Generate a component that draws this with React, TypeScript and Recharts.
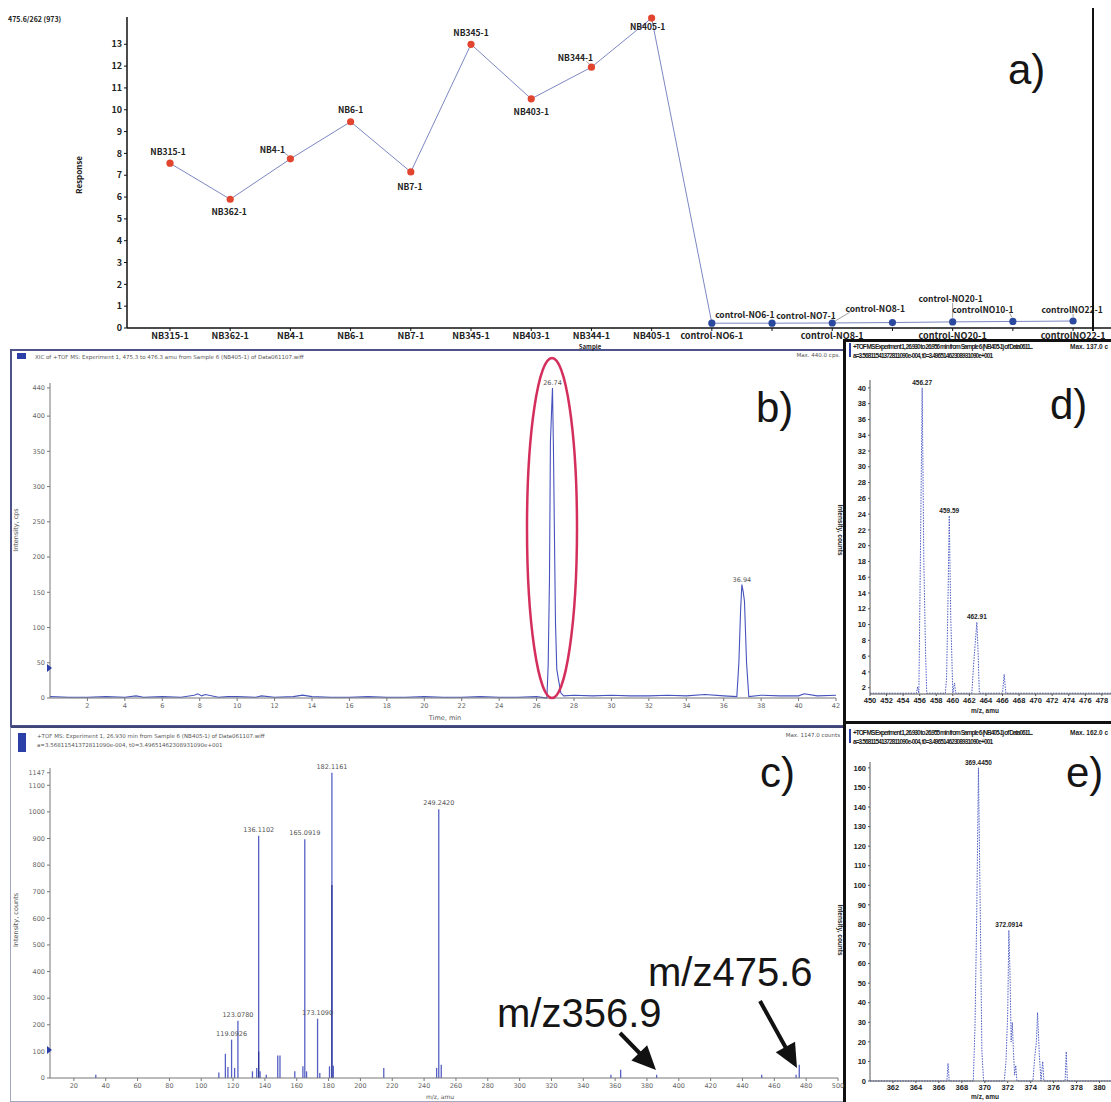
import React from 'react';
import { LineChart, Line, XAxis, YAxis, ComposedChart, Bar, ReferenceDot } from 'recharts';

const SANS = '"Liberation Sans", Arial, sans-serif';
const GOTHIC = '"Noto Sans CJK JP", "DejaVu Sans", sans-serif';
const NARROW = '"Liberation Sans Narrow", "Liberation Sans", sans-serif';
const SMALL = '"DejaVu Sans", sans-serif';

// a) 475.6/262 response per sample
const aSamples = [
  'NB315-1', 'NB362-1', 'NB4-1', 'NB6-1', 'NB7-1', 'NB345-1', 'NB403-1', 'NB344-1', 'NB405-1',
  'control-NO6-1', 'control-NO7-1', 'control-NO8-1', 'control-NO9-1', 'control-NO20-1', 'controlNO10-1', 'controlNO22-1',
];
const aResponse = [7.55, 5.9, 7.75, 9.45, 7.15, 13.0, 10.5, 11.95, 14.2, 0.22, 0.22, 0.23, 0.25, 0.28, 0.3, 0.32];
const aTickLabels = [
  'NB315-1', 'NB362-1', 'NB4-1', 'NB6-1', 'NB7-1', 'NB345-1', 'NB403-1', 'NB344-1', 'NB405-1',
  'control-NO6-1', '', 'control-NO8-1', '', 'control-NO20-1', '', 'controlNO22-1',
];
const aPointLabels = [
  'NB315-1', 'NB362-1', 'NB4-1', 'NB6-1', 'NB7-1', 'NB345-1', 'NB403-1', 'NB344-1', 'NB405-1',
  'control-NO6-1', 'control-NO7-1', 'control-NO8-1', '', 'control-NO20-1', 'controlNO10-1', 'controlNO22-1',
];
const aYTicks = [0, 1, 2, 3, 4, 5, 6, 7, 8, 9, 10, 11, 12, 13];

// b) XIC 475.3 - 476.3 amu
const bTime = [
  0, 1, 2, 3, 4, 4.6, 5, 6, 7, 7.7, 7.9, 8.1, 8.3, 9, 9.5, 10, 11, 11.3, 12, 13, 13.5, 14,
  15, 16, 17, 18, 19, 20, 21, 22, 23, 24, 25, 26,
  26.55, 26.62, 26.69, 26.74, 26.8, 26.85, 26.9, 26.96, 27.01, 27.08, 27.17, 27.3, 27.45,
  28, 29, 30, 31, 32, 33, 34, 35, 36,
  36.7, 36.81, 36.9, 36.97, 37.04, 37.11, 37.22, 37.34,
  38, 39, 40, 40.3, 41, 42,
];
const bIntensity = [
  2, 1, 1, 2, 1, 3, 1, 2, 1, 4, 6, 3, 5, 1, 2, 2, 1, 3, 1, 2, 4, 2,
  1, 1, 2, 1, 1, 2, 1, 1, 2, 1, 1, 2,
  0, 46, 170, 363, 406, 440, 358, 219, 108, 41, 26, 7, 3,
  4, 3, 4, 3, 3, 4, 3, 5, 3,
  2, 50, 123, 161, 151, 137, 50, 2,
  4, 3, 3, 6, 3, 4,
];
const bPeakTime = [26.85, 36.97];
const bPeakIntensity = [440, 161];
const bPeakLabel = ['26.74', '36.94'];
const bYTicks = [0, 50, 100, 150, 200, 250, 300, 350, 400, 440];
const bXTicks = [2, 4, 6, 8, 10, 12, 14, 16, 18, 20, 22, 24, 26, 28, 30, 32, 34, 36, 38, 40, 42];

// c) TOF MS spectrum at 26.930 min
const cMz = [
  33.8, 111.1, 115.2, 116.8, 119.09, 121.0, 123.08, 132.2, 134.9, 136.11, 137.0, 140.9, 148.1, 149.5,
  158.8, 163.9, 165.09, 166.2, 173.11, 174.5, 180.6, 182.12, 183.0, 214.7, 247.9, 249.24, 250.8,
  357.4, 363.5, 386.1, 452.1, 473.7, 475.7,
];
const cIntensity = [
  12, 21, 91, 41, 144, 38, 215, 25, 38, 910, 25, 12, 85, 85,
  25, 44, 897, 25, 223, 19, 44, 1147, 46, 38, 38, 1010, 50,
  12, 31, 12, 12, 12, 50,
];
const cCoreMz = [136.11, 182.12];
const cCoreIntensity = [100, 725];
const cLabelMz = [119.09, 123.08, 136.11, 165.09, 173.11, 182.12, 249.24];
const cLabelIntensity = [144, 215, 910, 897, 223, 1147, 1010];
const cLabelText = ['119.0926', '123.0780', '136.1102', '165.0919', '173.1090', '182.1161', '249.2420'];
const cYTicks = [0, 100, 200, 300, 400, 500, 600, 700, 800, 900, 1000, 1100, 1147];
const cXTicks = [20, 40, 60, 80, 100, 120, 140, 160, 180, 200, 220, 240, 260, 280, 300, 320, 340, 360, 380, 400, 420, 440, 460, 480, 500];

// d) isotope cluster around 456
const dMz = [
  450, 455.6, 455.75, 455.9, 456.1, 456.3, 456.5, 456.7, 456.85,
  459.1, 459.25, 459.4, 459.57, 459.75, 460.0, 460.2, 460.35,
  462.3, 462.5, 462.7, 462.9, 463.05, 463.2, 466.0, 466.2, 466.4, 479.1,
];
const dIntensity = [
  1.3, 1.3, 2.1, 1.3, 20, 40, 18, 6.9, 1.3,
  1.3, 3.3, 12, 23.8, 11, 1.3, 2.6, 1.3,
  1.3, 4.8, 7.5, 10.3, 6.6, 1.3, 1.3, 3.7, 1.3, 1.3,
];
const dLabelMz = [456.3, 459.57, 462.9];
const dLabelIntensity = [40, 23.8, 10.3];
const dLabelText = ['456.27', '459.59', '462.91'];
const dYTicks = [2, 4, 6, 8, 10, 12, 14, 16, 18, 20, 22, 24, 26, 28, 30, 32, 34, 36, 38, 40];
const dXTicks = [450, 452, 454, 456, 458, 460, 462, 464, 466, 468, 470, 472, 474, 476, 478];

// e) isotope cluster around 369
const eMz = [
  360, 366.7, 366.8, 366.9, 369.0, 369.15, 369.3, 369.45, 369.6, 369.75, 369.9,
  371.7, 371.85, 372.0, 372.1, 372.2, 372.3, 372.4, 372.5, 372.6, 372.7, 372.8,
  374.2, 374.35, 374.5, 374.6, 374.75, 374.9, 375.05, 375.15, 377.0, 377.1, 377.2, 381,
];
const eIntensity = [
  0, 0, 9, 0, 0, 28, 85, 160, 90, 15, 0,
  0, 10, 35, 77, 55, 20, 30, 15, 3, 8, 0,
  0, 12, 20, 35, 14, 0, 10, 0, 0, 15, 0, 0,
];
const eLabelMz = [369.45, 372.1];
const eLabelIntensity = [160, 77];
const eLabelText = ['369.4450', '372.0914'];
const eYTicks = [0, 10, 20, 30, 40, 50, 60, 70, 80, 90, 100, 110, 120, 130, 140, 150, 160];
const eXTicks = [362, 364, 366, 368, 370, 372, 374, 376, 378, 380];

// label placement for panel a (dx, dy from the point) and leader lines
const A_LABEL_OFFSET: [number, number][] = [
  [-2, -12], [-1, 12], [-18, -10], [0, -13], [-1, 14], [0, -12], [0, 12], [-16, -10], [-4, 8],
  [33, -9], [34, -8], [43, -15], [0, 0], [-2, -24], [-30, -12], [-1, -12],
];
const A_LEADER: (number[] | null)[] = [
  null, null, [-2, -3, -6, -6], null, null, null, null, [-2, -3, -5, -6], null,
  null, null, [3, -2, 18, -11], null, [0, -4, 0, -19], [-1, -4, -3, -8], [0, -4, 0, -7],
];

const renderADot = (p: any) => (
  <circle key={`ad${p.index}`} cx={p.cx} cy={p.cy} r={3.6} fill={p.index < 9 ? '#e2452f' : '#2b4a9f'} />
);

const renderALabel = (p: any) => {
  const { x, y, index } = p;
  const text = aPointLabels[index];
  if (!text) return <g key={`al${index}`} />;
  const [dx, dy] = A_LABEL_OFFSET[index];
  const ld = A_LEADER[index];
  return (
    <g key={`al${index}`}>
      {ld && <line x1={x + ld[0]} y1={y + ld[1]} x2={x + ld[2]} y2={y + ld[3]} stroke="#777" strokeWidth={0.7} />}
      <text x={x + dx} y={y + dy} textAnchor="middle" dominantBaseline="central" fontSize={8.5}
        fontWeight={700} fontFamily={GOTHIC} fill="#222">{text}</text>
    </g>
  );
};

function PanelA() {
  const data = aSamples.map((s, i) => ({ idx: i, sample: s, response: aResponse[i] }));
  const tick = { fontSize: 9, fill: '#222', fontWeight: 700, fontFamily: GOTHIC };
  return (
    <div style={{ position: 'absolute', left: 0, top: 0 }}>
      <LineChart width={1111} height={345} data={data} margin={{ top: 17, right: 0, bottom: 0, left: 97 }}>
        <XAxis dataKey="idx" type="number" domain={[-0.714, 15.63]} ticks={aSamples.map((_, i) => i)}
          tickFormatter={(v: number) => aTickLabels[v]} interval={0} height={17} tickSize={3}
          axisLine={{ stroke: '#111', strokeWidth: 1.5 }} tickLine={{ stroke: '#111' }} tick={tick} />
        <YAxis type="number" domain={[0, 14.25]} ticks={aYTicks} width={30} tickSize={3}
          axisLine={{ stroke: '#111', strokeWidth: 1.5 }} tickLine={{ stroke: '#111' }} tick={tick} />
        <Line type="linear" dataKey="response" stroke="#7d87c2" strokeWidth={1} isAnimationActive={false}
          dot={renderADot} activeDot={false} label={renderALabel} />
      </LineChart>
    </div>
  );
}

const smallTick = { fontSize: 6.5, fill: '#666', fontFamily: SMALL };

function PanelB() {
  const data = bTime.map((t, i) => ({ t, v: bIntensity[i] }));
  return (
    <div style={{ position: 'absolute', left: 10, top: 350 }}>
      <LineChart width={835} height={375} data={data} margin={{ top: 33, right: 9, bottom: 13, left: 10 }}>
        <XAxis dataKey="t" type="number" domain={[0, 42]} ticks={bXTicks} interval={0} height={14} tickSize={3}
          axisLine={{ stroke: '#777' }} tickLine={{ stroke: '#777' }} tick={smallTick} />
        <YAxis type="number" domain={[0, 447]} ticks={bYTicks} width={30} tickSize={3}
          axisLine={{ stroke: '#777' }} tickLine={{ stroke: '#777' }} tick={smallTick} />
        <Line type="linear" dataKey="v" stroke="#4653bd" strokeWidth={1.1} dot={false} activeDot={false}
          isAnimationActive={false} />
        {bPeakTime.map((t, i) => (
          <ReferenceDot key={`bp${i}`} x={t} y={bPeakIntensity[i]} r={0} stroke="none"
            label={{ value: bPeakLabel[i], position: 'top', fontSize: 6.5, fill: '#555', fontFamily: SMALL, offset: 3 }} />
        ))}
      </LineChart>
    </div>
  );
}

function PanelC() {
  const data = cMz.map((m, i) => {
    const k = cCoreMz.indexOf(m);
    return { mz: m, v: cIntensity[i], core: k >= 0 ? cCoreIntensity[k] : null };
  });
  return (
    <div style={{ position: 'absolute', left: 10, top: 728 }}>
      <ComposedChart width={835} height={374} data={data} margin={{ top: 40, right: 7, bottom: 10, left: 10 }}>
        <XAxis xAxisId="m" dataKey="mz" type="number" domain={[5, 500]} ticks={cXTicks} interval={0} height={14}
          tickSize={3} axisLine={{ stroke: '#777' }} tickLine={{ stroke: '#777' }} tick={smallTick} />
        <XAxis xAxisId="k" dataKey="mz" type="number" domain={[5, 500]} orientation="top" height={0} hide />
        <YAxis type="number" domain={[0, 1165]} ticks={cYTicks} width={30} tickSize={3}
          axisLine={{ stroke: '#777' }} tickLine={{ stroke: '#777' }} tick={smallTick} />
        <Bar xAxisId="m" dataKey="v" barSize={1.3} fill="#5560c4" isAnimationActive={false} />
        <Bar xAxisId="k" dataKey="core" barSize={2.6} fill="#2a3596" isAnimationActive={false} />
        {cLabelMz.map((m, i) => (
          <ReferenceDot key={`cp${i}`} xAxisId="m" x={m} y={cLabelIntensity[i]} r={0} stroke="none"
            label={{ value: cLabelText[i], position: 'top', fontSize: 6.5, fill: '#555', fontFamily: SMALL, offset: 4 }} />
        ))}
      </ComposedChart>
    </div>
  );
}

const boldTick = { fontSize: 7.5, fill: '#222', fontWeight: 700, fontFamily: NARROW };

function PanelD() {
  const data = dMz.map((m, i) => ({ mz: m, v: dIntensity[i] }));
  return (
    <div style={{ position: 'absolute', left: 845, top: 340 }}>
      <LineChart width={266} height={380} data={data} margin={{ top: 40, right: 0, bottom: 14, left: 5 }}>
        <XAxis dataKey="mz" type="number" domain={[450, 479.1]} ticks={dXTicks} interval={0} height={12}
          tickSize={2} axisLine={{ stroke: '#555' }} tickLine={{ stroke: '#555' }} tick={boldTick} />
        <YAxis type="number" domain={[1.2, 41]} ticks={dYTicks} width={20} tickSize={2}
          axisLine={{ stroke: '#555' }} tickLine={{ stroke: '#555' }} tick={boldTick} />
        <Line type="linear" dataKey="v" stroke="#4d5cc4" strokeWidth={1} strokeDasharray="1.5 1.2"
          dot={false} activeDot={false} isAnimationActive={false} />
        {dLabelMz.map((m, i) => (
          <ReferenceDot key={`dp${i}`} x={m} y={dLabelIntensity[i]} r={0} stroke="none"
            label={{ value: dLabelText[i], position: 'top', fontSize: 6.5, fill: '#222', fontWeight: 700, fontFamily: NARROW, offset: 3 }} />
        ))}
      </LineChart>
    </div>
  );
}

function PanelE() {
  const data = eMz.map((m, i) => ({ mz: m, v: eIntensity[i] }));
  return (
    <div style={{ position: 'absolute', left: 845, top: 726 }}>
      <LineChart width={266} height={376} data={data} margin={{ top: 36, right: 0, bottom: 9, left: 5 }}>
        <XAxis dataKey="mz" type="number" domain={[360, 381]} ticks={eXTicks} interval={0} height={12}
          tickSize={2} axisLine={{ stroke: '#555' }} tickLine={{ stroke: '#555' }} tick={boldTick} />
        <YAxis type="number" domain={[0, 163]} ticks={eYTicks} width={20} tickSize={2}
          axisLine={{ stroke: '#555' }} tickLine={{ stroke: '#555' }} tick={boldTick} />
        <Line type="linear" dataKey="v" stroke="#4d5cc4" strokeWidth={1} strokeDasharray="1.5 1.2"
          dot={false} activeDot={false} isAnimationActive={false} />
        {eLabelMz.map((m, i) => (
          <ReferenceDot key={`ep${i}`} x={m} y={eLabelIntensity[i]} r={0} stroke="none"
            label={{ value: eLabelText[i], position: 'top', fontSize: 6.5, fill: '#222', fontWeight: 700, fontFamily: NARROW, offset: 3 }} />
        ))}
      </LineChart>
    </div>
  );
}

function arrow(x1: number, y1: number, x2: number, y2: number, head = 24, half = 11) {
  const len = Math.hypot(x2 - x1, y2 - y1);
  const ux = (x2 - x1) / len;
  const uy = (y2 - y1) / len;
  const bx = x2 - ux * head;
  const by = y2 - uy * head;
  return (
    <g>
      <line x1={x1} y1={y1} x2={bx + ux * 2} y2={by + uy * 2} stroke="#111" strokeWidth={4} />
      <polygon points={`${x2},${y2} ${bx - uy * half},${by + ux * half} ${bx + uy * half},${by - ux * half}`} fill="#111" />
    </g>
  );
}

function Overlay() {
  const big = { fontFamily: SANS, fontSize: 42, fill: '#151515' };
  const mz = { fontFamily: SANS, fontSize: 40, fill: '#151515' };
  const tiny = { fontFamily: SMALL, fontSize: 5.5, fill: '#555' };
  const tinyBold = { fontFamily: NARROW, fontSize: 6.5, fill: '#222', fontWeight: 700 };
  return (
    <svg width={1111} height={1102} style={{ position: 'absolute', left: 0, top: 0, pointerEvents: 'none' }}>
      {/* panel a */}
      <text x={8} y={22} fontFamily={GOTHIC} fontSize={7} fontWeight={700} fill="#222">475.6/262 (973)</text>
      <text x={0} y={0} transform="translate(82,175) rotate(-90)" textAnchor="middle" fontFamily={GOTHIC}
        fontSize={8} fontWeight={700} fill="#222">Response</text>
      <text x={590} y={348.5} textAnchor="middle" fontFamily={GOTHIC} fontSize={6} fontWeight={700} fill="#222">Sample</text>
      <line x1={1093} y1={8} x2={1093} y2={331} stroke="#111" strokeWidth={2} />
      <text x={1008} y={84} {...big}>a)</text>

      {/* panel b */}
      <rect x={17} y={353} width={9} height={6} fill="#2c3fa6" />
      <text x={35} y={359} {...tiny}>XIC of +TOF MS: Experiment 1, 475.3 to 476.3 amu from Sample 6 (NB405-1) of Data061107.wiff</text>
      <text x={840} y={357} textAnchor="end" {...tiny}>Max. 440.0 cps.</text>
      <text x={0} y={0} transform="translate(18,530) rotate(-90)" textAnchor="middle" {...tiny} fontSize={6.5}>Intensity, cps</text>
      <text x={445} y={720} textAnchor="middle" {...tiny} fontSize={6.5}>Time, min</text>
      <polygon points="47,664 52,668 47,672" fill="#2c3fa6" />
      <ellipse cx={552} cy={528} rx={25} ry={170} fill="none" stroke="#d42f5c" strokeWidth={2.5} />
      <text x={756} y={422} {...big}>b)</text>

      {/* panel c */}
      <rect x={18} y={733} width={8} height={19} fill="#2c3fa6" />
      <text x={37} y={738} {...tiny}>+TOF MS: Experiment 1, 26.930 min from Sample 6 (NB405-1) of Data061107.wiff</text>
      <text x={37} y={747} {...tiny}>a=3.56811541372811090e-004, t0=3.49651462308931090e+001</text>
      <text x={840} y={737} textAnchor="end" {...tiny}>Max. 1147.0 counts</text>
      <text x={0} y={0} transform="translate(18,920) rotate(-90)" textAnchor="middle" {...tiny} fontSize={6.5}>Intensity, counts</text>
      <text x={440} y={1099} textAnchor="middle" {...tiny} fontSize={6}>m/z, amu</text>
      <polygon points="47,1046 52,1050 47,1054" fill="#2c3fa6" />
      <text x={760} y={787} {...big}>c)</text>
      <text x={497} y={1027} {...mz}>m/z356.9</text>
      <text x={648} y={986} {...mz}>m/z475.6</text>
      {arrow(620, 1033, 656, 1070)}
      {arrow(760, 1001, 797, 1068)}

      {/* panel d */}
      <rect x={849} y={343} width={2} height={14} fill="#2c3fa6" />
      <text x={853} y={349} {...tinyBold} textLength={180}>+TOF MS Experiment 1, 26.930 to 26.956 min from Sample 6 (NB405-1) of Data0611...</text>
      <text x={853} y={358} {...tinyBold} textLength={140}>a=3.56811541372811090e-004, t0=3.49651462308931090e+001</text>
      <text x={1108} y={349} textAnchor="end" {...tinyBold}>Max. 137.0 c</text>
      <text x={0} y={0} transform="translate(838,530) rotate(90)" textAnchor="middle" {...tinyBold}>Intensity, counts</text>
      <text x={985} y={713} textAnchor="middle" {...tinyBold}>m/z, amu</text>
      <text x={1050} y={419} {...big}>d)</text>

      {/* panel e */}
      <rect x={849} y={729} width={2} height={14} fill="#2c3fa6" />
      <text x={853} y={735} {...tinyBold} textLength={180}>+TOF MS Experiment 1, 26.930 to 26.955 min from Sample 6 (NB405-1) of Data0611...</text>
      <text x={853} y={744} {...tinyBold} textLength={140}>a=3.56811541372811090e-004, t0=3.49651462308931090e+001</text>
      <text x={1108} y={735} textAnchor="end" {...tinyBold}>Max. 162.0 c</text>
      <text x={0} y={0} transform="translate(838,930) rotate(90)" textAnchor="middle" {...tinyBold}>Intensity, counts</text>
      <text x={985} y={1099} textAnchor="middle" {...tinyBold}>m/z, amu</text>
      <text x={1066} y={787} {...big}>e)</text>
    </svg>
  );
}

function Frames() {
  const base: React.CSSProperties = { position: 'absolute', boxSizing: 'border-box' };
  return (
    <>
      <div style={{ ...base, left: 10, top: 349, width: 835, height: 378, border: '2px solid #4d5389' }} />
      <div style={{ ...base, left: 10, top: 726, width: 835, height: 376, borderLeft: '1px solid #a3a8c0', borderTop: '2px solid #3f4577', borderBottom: '1px solid #a3a8c0' }} />
      <div style={{ ...base, left: 843, top: 339, width: 268, height: 763, borderLeft: '3px solid #111', borderTop: '3px solid #111' }} />
      <div style={{ ...base, left: 843, top: 721, width: 268, height: 3, background: '#111' }} />
    </>
  );
}

export default function App() {
  return (
    <div style={{ position: 'absolute', left: 0, top: 0, width: 1111, height: 1102, background: '#fff', overflow: 'hidden' }}>
      <PanelA />
      <Frames />
      <PanelB />
      <PanelC />
      <PanelD />
      <PanelE />
      <Overlay />
    </div>
  );
}
